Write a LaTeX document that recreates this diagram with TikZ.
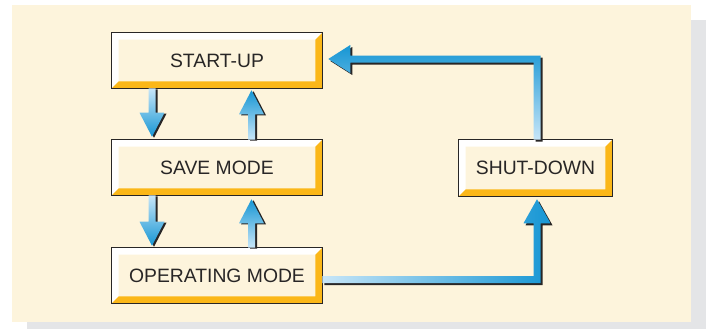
\documentclass[tikz,border=0pt]{standalone}
\usepackage{fontspec}
\setmainfont{Liberation Sans}
\usetikzlibrary{calc}
\definecolor{panelcream}{RGB}{253,244,220}
\definecolor{panelgray}{RGB}{228,229,231}
\definecolor{bevelorange}{RGB}{251,183,24}
\definecolor{linedark}{RGB}{40,38,38}
\definecolor{flowdark}{RGB}{22,150,212}
\definecolor{flowlight}{RGB}{200,230,248}

% arrow outlines, #3 is an extra offset (for the shadow)
\newcommand{\downarrshape}[3]{($(#1)+(-3.5,0)+#3$) -- ($(#1)+(3.5,0)+#3$) -- ($(#2)+(3.5,-24)+#3$) -- ($(#2)+(12.5,-24)+#3$) -- ($(#2)+#3$) -- ($(#2)+(-12.5,-24)+#3$) -- ($(#2)+(-3.5,-24)+#3$) -- cycle}
\newcommand{\uparrshape}[3]{($(#1)+(-3.5,0)+#3$) -- ($(#1)+(3.5,0)+#3$) -- ($(#2)+(3.5,24)+#3$) -- ($(#2)+(12.5,24)+#3$) -- ($(#2)+#3$) -- ($(#2)+(-12.5,24)+#3$) -- ($(#2)+(-3.5,24)+#3$) -- cycle}

\begin{document}
\begin{tikzpicture}[
    x=0.75pt, y=-0.75pt,
    stage/.style={fill=panelcream, inner sep=0pt, minimum width=157.5pt, minimum height=41.25pt, text=linedark, font=\fontsize{14.5}{17}\selectfont},
    boxline/.style={draw=linedark, line width=1.1pt},
    arrshadow/.style={fill=linedark},
    arrdown/.style={top color=flowlight, bottom color=flowdark},
    arrup/.style={top color=flowdark, bottom color=flowlight},
    arrright/.style={left color=flowlight, right color=flowdark}
]
    \useasboundingbox (0,0) rectangle (708,329);
    \fill[panelgray] (27,20) rectangle (706,329);
    \fill[panelcream] (12,5) rectangle (691,322);

    \node[stage] (start) at (217,60.5) {START-UP};
    \node[stage] (save) at (217,167.5) {SAVE MODE};
    \node[stage] (oper) at (217,275.5) {OPERATING MODE};
    \node[stage, minimum width=114.75pt, minimum height=42pt] (shut) at (535.5,168) {SHUT-DOWN};

    % bevelled frames
    \foreach \n in {start,save,oper,shut} {
        \fill[white] (\n.north west) -- (\n.north east) -- ($(\n.north east)+(-7,7)$) -- ($(\n.north west)+(7,7)$) -- ($(\n.south west)+(7,-7)$) -- (\n.south west) -- cycle;
        \fill[bevelorange] (\n.south east) -- (\n.south west) -- ($(\n.south west)+(7,-7)$) -- ($(\n.south east)+(-7,-7)$) -- ($(\n.north east)+(-7,7)$) -- (\n.north east) -- cycle;
        \draw[boxline] (\n.north west) rectangle (\n.south east);
    }

    % ends of the short arrows
    \coordinate (d1a) at ($(start.south)+(-65,0)$);
    \coordinate (d1b) at ($(save.north)+(-65,-3)$);
    \coordinate (u1a) at ($(save.north)+(34.5,0)$);
    \coordinate (u1b) at ($(start.south)+(34.5,2)$);
    \coordinate (d2a) at ($(save.south)+(-65,0)$);
    \coordinate (d2b) at ($(oper.north)+(-65,-2)$);
    \coordinate (u2a) at ($(oper.north)+(34.5,0)$);
    \coordinate (u2b) at ($(save.south)+(34.5,4)$);

    \fill[arrshadow] \downarrshape{d1a}{d1b}{(2,1)};
    \shade[arrdown] \downarrshape{d1a}{d1b}{(0,0)};
    \fill[arrshadow] \uparrshape{u1a}{u1b}{(2,1)};
    \shade[arrup] \uparrshape{u1a}{u1b}{(0,0)};
    \fill[arrshadow] \downarrshape{d2a}{d2b}{(2,1)};
    \shade[arrdown] \downarrshape{d2a}{d2b}{(0,0)};
    \fill[arrshadow] \uparrshape{u2a}{u2b}{(2,1)};
    \shade[arrup] \uparrshape{u2a}{u2b}{(0,0)};

    % operating mode -> shut-down
    \coordinate (o1) at ($(oper.east)+(0,4)$);
    \coordinate (o2) at ($(shut.south)+(1.5,3)$);
    \foreach \dx/\dy/\sty in {2/2/arrshadow, 0/0/arrright}
        \path[\sty] ($(o1)+(0,-3.5)+(\dx,\dy)$) -- ($(o1 -| o2)+(-3.5,-3.5)+(\dx,\dy)$) -- ($(o2)+(-3.5,24)+(\dx,\dy)$) -- ($(o2)+(-13.5,24)+(\dx,\dy)$) -- ($(o2)+(\dx,\dy)$) -- ($(o2)+(13.5,24)+(\dx,\dy)$) -- ($(o2)+(3.5,24)+(\dx,\dy)$) -- ($(o1 -| o2)+(3.5,3.5)+(\dx,\dy)$) -- ($(o1)+(0,3.5)+(\dx,\dy)$) -- cycle;

    % shut-down -> start-up
    \coordinate (s1) at ($(shut.north)+(1.5,0)$);
    \coordinate (s2) at ($(start.east)+(6,-1.5)$);
    \foreach \dx/\dy/\sty in {2/2/arrshadow, 0/0/arrup}
        \path[\sty] ($(s1)+(-3.5,0)+(\dx,\dy)$) -- ($(s1 |- s2)+(-3.5,3.5)+(\dx,\dy)$) -- ($(s2)+(22,3.5)+(\dx,\dy)$) -- ($(s2)+(22,14)+(\dx,\dy)$) -- ($(s2)+(\dx,\dy)$) -- ($(s2)+(22,-14)+(\dx,\dy)$) -- ($(s2)+(22,-3.5)+(\dx,\dy)$) -- ($(s1 |- s2)+(3.5,-3.5)+(\dx,\dy)$) -- ($(s1)+(3.5,0)+(\dx,\dy)$) -- cycle;
\end{tikzpicture}
\end{document}
